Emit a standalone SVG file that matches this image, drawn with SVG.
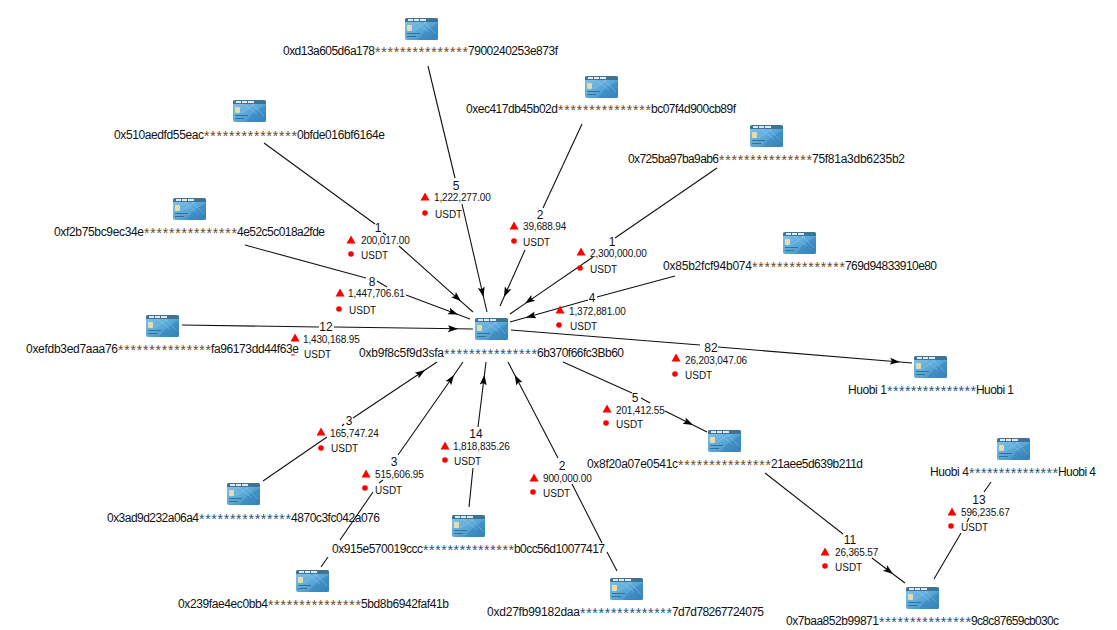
<svg xmlns="http://www.w3.org/2000/svg" width="1117" height="630" viewBox="0 0 1117 630">
<style>
text{font-family:"Liberation Sans",Arial,sans-serif;fill:#111}
.n{font-size:12px}
.o{fill:#6b4a1c;font-size:14px}
.b{fill:#1d5580;font-size:14px}
.c{font-size:12px;text-anchor:middle}
.a{font-size:10px;letter-spacing:-.15px}
.u{font-size:10px}
.e{fill:none;stroke:#111;stroke-width:1.1}
.m{marker-mid:url(#arrow)}
.r{fill:#f00}
</style>
<defs>
<marker id="arrow" markerUnits="userSpaceOnUse" markerWidth="12" markerHeight="10" refX="10" refY="5" orient="auto"><path d="M0,1.5L10,5L0,8.5L2,5Z" fill="#000"/></marker>
<linearGradient id="cg" x1="0" y1="0" x2="1" y2="1"><stop offset="0" stop-color="#8cc6e8"/><stop offset=".5" stop-color="#5aa9da"/><stop offset="1" stop-color="#3a84ba"/></linearGradient>
<g id="card">
<rect x="-16" y="-10" width="33" height="22" rx="2" fill="url(#cg)"/>
<path d="M-16,-6V-8a2,2 0 0 1 2,-2H15a2,2 0 0 1 2,2V-6Z" fill="#3f7396"/>
<rect x="-13" y="-9" width="5" height="2" fill="#dfe9f0"/><rect x="-7" y="-9" width="5" height="2" fill="#dfe9f0"/><rect x="-1" y="-9" width="6" height="2" fill="#dfe9f0"/>
<rect x="-14" y="-3" width="5" height="6" rx="1" fill="#e6dcae"/>
<path d="M-3,12C2,4 8,0 17,-5V12Z" fill="#2f7fb8" opacity=".45"/>
<path d="M-5,-6L8,4M3,-6L15,6M-8,3L6,-6" stroke="#a8d4ee" stroke-width=".6" fill="none" opacity=".6"/>
<rect x="-14" y="5" width="13" height="1" fill="#3a6f92"/><rect x="-14" y="8" width="9" height="1" fill="#3a6f92"/>
</g>
<polygon id="tri" points="0,-4.5 4.5,3.5 -4.5,3.5" fill="#f00"/>
</defs>

<g id="connectors">
<path class="e" d="M428,66L455,178"/>
<polyline class="e m" points="462,204 483.5,297 487,312"/>
<path class="e" d="M582,124L543,208"/>
<polyline class="e m" points="525,250 504,297 500,306"/>
<path class="e" d="M264,143L375,224M383,233L386,235"/>
<polyline class="e m" points="399,246 461,301.3 473,312"/>
<path class="e" d="M717,168L615,238"/>
<polyline class="e m" points="593,257 525,303.6 510,314"/>
<path class="e" d="M245,245L366,278M377,281L387,287"/>
<polyline class="e m" points="406,295 458,314.5 470,319"/>
<path class="e" d="M675,276L597,297"/>
<polyline class="e m" points="588,300 526,317.5 510,322"/>
<path class="e" d="M182,325L319,327"/>
<polyline class="e m" points="334,327 458,328.8 473,329"/>
<path class="e" d="M511,330L700,345"/>
<polyline class="e m" points="718,347 900,362 912,363"/>
<path class="e" d="M563,362L632,393M641,398L650,403"/>
<polyline class="e m" points="665,411 693,425 707,432"/>
<path class="e" d="M263,481L327,437M342,426L344,424"/>
<polyline class="e m" points="353,418 425,370 437,362"/>
<path class="e" d="M321,567L328,557M340,540L373,492M379,483L383,480"/>
<polyline class="e m" points="398,455 454,375 463,362"/>
<path class="e" d="M469,507L473,468"/>
<polyline class="e m" points="478,427 484.4,375 486,362"/>
<path class="e" d="M617,571L607,552M602,543L572,484"/>
<polyline class="e m" points="558,458 514.8,375 508,362"/>
<path class="e" d="M765,473L843,534"/>
<polyline class="e m" points="872,558 893,574 905,583"/>
<path class="e" d="M991,482L984,492M969,518L967,522M961,533L934,579"/>
</g>

<g id="edge-labels">
<text class="c" x="456" y="190">5</text><use href="#tri" x="425" y="197"/><text class="a" x="434" y="201">1,222,277.00</text><circle class="r" cx="425" cy="213" r="2.8"/><text class="u" x="435" y="218">USDT</text>
<text class="c" x="540" y="219">2</text><use href="#tri" x="514" y="226"/><text class="a" x="523" y="230">39,688.94</text><circle class="r" cx="514" cy="241" r="2.8"/><text class="u" x="523" y="246">USDT</text>
<text class="c" x="378" y="232">1</text><use href="#tri" x="351" y="240"/><text class="a" x="361" y="244">200,017.00</text><circle class="r" cx="351" cy="254" r="2.8"/><text class="u" x="361" y="259">USDT</text>
<text class="c" x="612" y="246">1</text><use href="#tri" x="581" y="252"/><text class="a" x="590" y="257">2,300,000.00</text><circle class="r" cx="580" cy="268" r="2.8"/><text class="u" x="590" y="273">USDT</text>
<text class="c" x="372" y="286">8</text><use href="#tri" x="340" y="293"/><text class="a" x="348" y="297">1,447,706.61</text><circle class="r" cx="339" cy="309" r="2.8"/><text class="u" x="349" y="314">USDT</text>
<text class="c" x="592" y="302">4</text><use href="#tri" x="560" y="310"/><text class="a" x="569" y="315">1,372,881.00</text><circle class="r" cx="559" cy="325" r="2.8"/><text class="u" x="570" y="330">USDT</text>
<text class="c" x="326" y="331">12</text><use href="#tri" x="295" y="338"/><text class="a" x="303" y="343">1,430,168.95</text><rect class="r" x="291" y="354.5" width="4" height="1"/><text class="u" x="304" y="358">USDT</text>
<text class="c" x="711" y="352">82</text><use href="#tri" x="676" y="358"/><text class="a" x="685" y="364">26,203,047.06</text><circle class="r" cx="675" cy="374" r="2.8"/><text class="u" x="685" y="379">USDT</text>
<text class="c" x="635" y="402">5</text><use href="#tri" x="607" y="409"/><text class="a" x="616" y="414">201,412.55</text><circle class="r" cx="606" cy="423" r="2.8"/><text class="u" x="616" y="428">USDT</text>
<text class="c" x="349" y="425">3</text><use href="#tri" x="321" y="432"/><text class="a" x="330" y="437">165,747.24</text><circle class="r" cx="321" cy="448" r="2.8"/><text class="u" x="331" y="452">USDT</text>
<text class="c" x="394" y="466">3</text><use href="#tri" x="366" y="474"/><text class="a" x="375" y="478">515,606.95</text><circle class="r" cx="365" cy="488" r="2.8"/><text class="u" x="375" y="494">USDT</text>
<text class="c" x="476" y="438">14</text><use href="#tri" x="445" y="446"/><text class="a" x="453" y="450">1,818,835.26</text><circle class="r" cx="445" cy="460" r="2.8"/><text class="u" x="454" y="465">USDT</text>
<text class="c" x="562" y="470">2</text><use href="#tri" x="534" y="478"/><text class="a" x="543" y="482">900,000.00</text><circle class="r" cx="533" cy="492" r="2.8"/><text class="u" x="543" y="497">USDT</text>
<text class="c" x="850" y="544">11</text><use href="#tri" x="825" y="552"/><text class="a" x="835" y="556">26,365.57</text><circle class="r" cx="825" cy="566" r="2.8"/><text class="u" x="835" y="571">USDT</text>
<text class="c" x="979" y="504">13</text><use href="#tri" x="952" y="512"/><text class="a" x="961" y="516">596,235.67</text><circle class="r" cx="951" cy="526" r="2.8"/><text class="u" x="961" y="531">USDT</text>
</g>

<g id="n-d13a"><use href="#card" x="421" y="28"/><text class="n" y="55"><tspan x="283" textLength="92">0xd13a605d6a178</tspan><tspan class="o" x="375" dy="2" textLength="93">***************</tspan><tspan x="468" dy="-2" textLength="90">7900240253e873f</tspan></text></g>
<g id="n-ec41"><use href="#card" x="601" y="86"/><text class="n" y="113"><tspan x="466" textLength="92">0xec417db45b02d</tspan><tspan class="o" x="558" dy="2" textLength="93">***************</tspan><tspan x="651" dy="-2" textLength="85">bc07f4d900cb89f</tspan></text></g>
<g id="n-510a"><use href="#card" x="249" y="110"/><text class="n" y="139"><tspan x="114" textLength="90">0x510aedfd55eac</tspan><tspan class="o" x="204" dy="2" textLength="93">***************</tspan><tspan x="297" dy="-2" textLength="88">0bfde016bf6164e</tspan></text></g>
<g id="n-725b"><use href="#card" x="766" y="135"/><text class="n" y="163"><tspan x="628" textLength="91">0x725ba97ba9ab6</tspan><tspan class="o" x="719" dy="2" textLength="93">***************</tspan><tspan x="812" dy="-2" textLength="93">75f81a3db6235b2</tspan></text></g>
<g id="n-f2b7"><use href="#card" x="189" y="208"/><text class="n" y="236"><tspan x="54" textLength="90">0xf2b75bc9ec34e</tspan><tspan class="o" x="144" dy="2" textLength="93">***************</tspan><tspan x="237" dy="-2" textLength="88">4e52c5c018a2fde</tspan></text></g>
<g id="n-85b2"><use href="#card" x="799" y="242"/><text class="n" y="270"><tspan x="663" textLength="89">0x85b2fcf94b074</tspan><tspan class="o" x="752" dy="2" textLength="93">***************</tspan><tspan x="845" dy="-2" textLength="92">769d94833910e80</tspan></text></g>
<g id="n-efdb"><use href="#card" x="162" y="325"/><text class="n" y="353"><tspan x="26" textLength="92">0xefdb3ed7aaa76</tspan><tspan class="o" x="118" dy="2" textLength="93">***************</tspan><tspan x="211" dy="-2" textLength="88">fa96173dd44f63e</tspan></text></g>
<g id="n-center"><use href="#card" x="491" y="328"/><text class="n" y="357"><tspan x="359" textLength="85">0xb9f8c5f9d3sfa</tspan><tspan class="b" x="444" dy="2" textLength="93">***************</tspan><tspan x="537" dy="-2" textLength="87">6b370f66fc3Bb60</tspan></text></g>
<g id="n-huobi1"><use href="#card" x="930" y="366"/><text class="n" y="394"><tspan x="848" textLength="39">Huobi  1</tspan><tspan class="b" x="887" dy="2" textLength="89">***************</tspan><tspan x="976" dy="-2" textLength="38">Huobi  1</tspan></text></g>
<g id="n-8f20"><use href="#card" x="724" y="440"/><text class="n" y="468"><tspan x="587" textLength="91">0x8f20a07e0541c</tspan><tspan class="o" x="678" dy="2" textLength="93">***************</tspan><tspan x="771" dy="-2" textLength="92">21aee5d639b211d</tspan></text></g>
<g id="n-huobi4"><use href="#card" x="1013" y="448"/><text class="n" y="476"><tspan x="930" textLength="39">Huobi  4</tspan><tspan class="b" x="969" dy="2" textLength="89">***************</tspan><tspan x="1058" dy="-2" textLength="38">Huobi  4</tspan></text></g>
<g id="n-3ad9"><use href="#card" x="243" y="493"/><text class="n" y="522"><tspan x="107" textLength="92">0x3ad9d232a06a4</tspan><tspan class="b" x="199" dy="2" textLength="92">***************</tspan><tspan x="291" dy="-2" textLength="89">4870c3fc042a076</tspan></text></g>
<g id="n-915e"><use href="#card" x="468" y="525"/><text class="n" y="553"><tspan x="332" textLength="91">0x915e570019ccc</tspan><tspan class="b" x="423" dy="2" textLength="91">***************</tspan><tspan x="514" dy="-2" textLength="91">b0cc56d10077417</tspan></text></g>
<g id="n-239f"><use href="#card" x="312" y="580"/><text class="n" y="608"><tspan x="178" textLength="90">0x239fae4ec0bb4</tspan><tspan class="o" x="268" dy="2" textLength="93">***************</tspan><tspan x="361" dy="-2" textLength="88">5bd8b6942faf41b</tspan></text></g>
<g id="n-d27f"><use href="#card" x="626" y="588"/><text class="n" y="616"><tspan x="487" textLength="93">0xd27fb99182daa</tspan><tspan class="b" x="580" dy="2" textLength="92">***************</tspan><tspan x="672" dy="-2" textLength="92">7d7d78267724075</tspan></text></g>
<g id="n-7baa"><use href="#card" x="922" y="597"/><text class="n" y="625"><tspan x="786" textLength="93">0x7baa852b99871</tspan><tspan class="b" x="879" dy="2" textLength="92">***************</tspan><tspan x="971" dy="-2" textLength="88">9c8c87659cb030c</tspan></text></g>
</svg>
